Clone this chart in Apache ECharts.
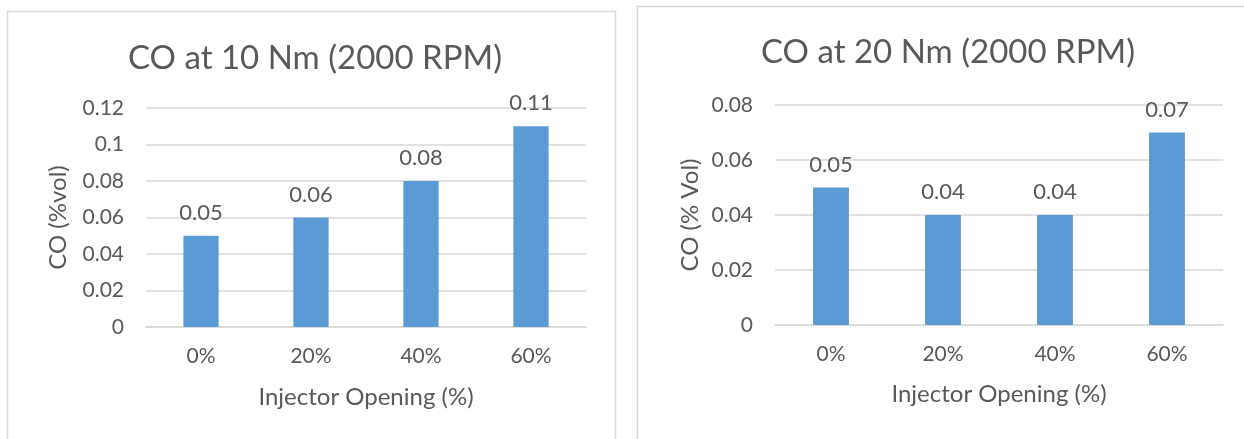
<!DOCTYPE html>
<html>
<head>
<meta charset="utf-8">
<script src="https://cdn.jsdelivr.net/npm/echarts@6/dist/echarts.min.js"></script>
<style>
  html, body { margin: 0; padding: 0; background: #fff; }
  #chart { width: 1244px; height: 439px; }
</style>
</head>
<body>
<div id="chart"></div>
<script>
// Injector opening categories shared by both panels
const categories = ['0%', '20%', '40%', '60%'];

// CO emissions at 10 Nm (left panel) and 20 Nm (right panel), 2000 RPM
const co10Nm = [0.05, 0.06, 0.08, 0.11];
const co20Nm = [0.05, 0.04, 0.04, 0.07];

// Value-axis tick settings
const leftAxisMax = 0.12;
const rightAxisMax = 0.08;
const axisStep = 0.02;

const FONT = 'Lato, "Open Sans", sans-serif';
const TEXT = '#595959';
const GRIDLINE = '#D9D9D9';
const BAR = '#5B9BD5';

function fmt(v) {
  return String(Math.round(v * 100) / 100);
}

function valueAxis(gridIndex, max, name, nameGap) {
  return {
    type: 'value',
    gridIndex: gridIndex,
    min: 0,
    max: max,
    interval: axisStep,
    name: name,
    nameLocation: 'middle',
    nameGap: nameGap,
    nameTextStyle: { color: TEXT, fontSize: 24, fontFamily: FONT },
    axisLine: { show: false },
    axisTick: { show: false },
    axisLabel: { color: TEXT, fontSize: 21, fontFamily: FONT, margin: 22, formatter: fmt },
    splitLine: { lineStyle: { color: GRIDLINE, width: 1.5 } }
  };
}

function categoryAxis(gridIndex, nameGap) {
  return {
    type: 'category',
    gridIndex: gridIndex,
    data: categories,
    name: 'Injector Opening (%)',
    nameLocation: 'middle',
    nameGap: nameGap,
    nameTextStyle: { color: TEXT, fontSize: 24, fontFamily: FONT },
    axisLine: { lineStyle: { color: GRIDLINE, width: 1.5 } },
    axisTick: { show: false },
    axisLabel: { color: TEXT, fontSize: 21, fontFamily: FONT, margin: 19 }
  };
}

function barSeries(idx, data) {
  return {
    type: 'bar',
    xAxisIndex: idx,
    yAxisIndex: idx,
    data: data,
    barWidth: '32%',
    itemStyle: { color: BAR },
    label: {
      show: true,
      position: 'top',
      distance: 12,
      color: TEXT,
      fontSize: 22,
      fontFamily: FONT,
      formatter: p => fmt(p.value)
    }
  };
}

const chart = echarts.init(document.getElementById('chart'), null, { renderer: 'canvas' });

chart.setOption({
  backgroundColor: '#ffffff',
  animation: false,
  graphic: [
    { type: 'rect', shape: { x: 7.5, y: 11.5, width: 608, height: 460 },
      style: { fill: 'none', stroke: '#D9D9D9', lineWidth: 1.5 }, z: -10 },
    { type: 'rect', shape: { x: 637.5, y: 6.5, width: 640, height: 460 },
      style: { fill: 'none', stroke: '#D9D9D9', lineWidth: 1.5 }, z: -10 }
  ],
  title: [
    { text: 'CO at 10 Nm (2000 RPM)', left: 310, top: 37, textAlign: 'center',
      textStyle: { color: TEXT, fontSize: 33, fontWeight: 'normal', fontFamily: FONT } },
    { text: 'CO at 20 Nm (2000 RPM)', left: 943, top: 31, textAlign: 'center',
      textStyle: { color: TEXT, fontSize: 33, fontWeight: 'normal', fontFamily: FONT } }
  ],
  grid: [
    { left: 146, top: 108, width: 440, height: 219, containLabel: false },
    { left: 775, top: 105, width: 448, height: 220, containLabel: false }
  ],
  xAxis: [categoryAxis(0, 58), categoryAxis(1, 57)],
  yAxis: [
    valueAxis(0, leftAxisMax, 'CO (%vol)', 76),
    valueAxis(1, rightAxisMax, 'CO (% Vol)', 73)
  ],
  series: [barSeries(0, co10Nm), barSeries(1, co20Nm)]
});
</script>
</body>
</html>
